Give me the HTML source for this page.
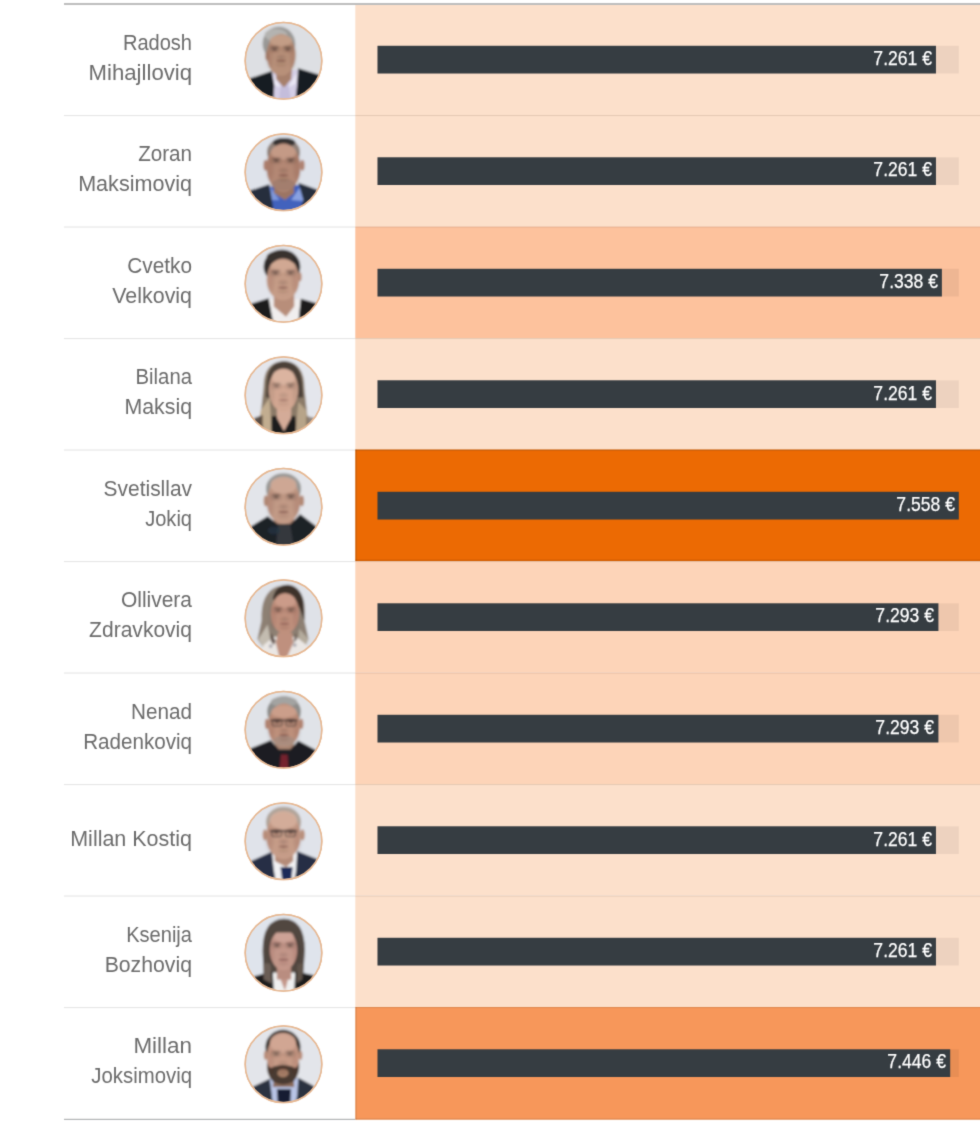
<!DOCTYPE html>
<html lang="sq">
<head>
<meta charset="utf-8">
<title>Paga</title>
<style>
html,body{margin:0;padding:0;background:#fff;}
body{width:980px;height:1127px;position:relative;overflow:hidden;font-family:"Liberation Sans",sans-serif;}
#page{position:absolute;left:0;top:0;width:980px;height:1127px;overflow:hidden;filter:url(#soft);background:#fff;}
#bg{position:absolute;left:0;top:0;width:980px;height:1127px;display:block;}
.name{position:absolute;left:0;width:192px;text-align:right;font-size:21.5px;line-height:30px;color:#6c6c6c;white-space:nowrap;}
.name span{display:block;transform-origin:100% 50%;}
.val{position:absolute;font-size:20.8px;line-height:28px;color:#fff;-webkit-text-stroke:0.25px #fff;white-space:nowrap;text-align:right;transform-origin:100% 50%;transform:scaleX(0.845);}
</style>
</head>
<body>
<div id="page">
<svg id="bg" width="980" height="1127" viewBox="0 0 980 1127">
<defs><filter id="bl" x="-5%" y="-5%" width="110%" height="110%"><feGaussianBlur stdDeviation="9"/></filter><filter id="bs" x="-30%" y="-30%" width="160%" height="160%"><feGaussianBlur stdDeviation="16"/></filter><clipPath id="cc"><circle cx="495" cy="498" r="372"/></clipPath><filter id="soft" x="0" y="0" width="100%" height="100%" color-interpolation-filters="sRGB"><feConvolveMatrix order="3" kernelMatrix="0.0169 0.0962 0.0169 0.0962 0.5476 0.0962 0.0169 0.0962 0.0169" edgeMode="duplicate" preserveAlpha="true"/></filter></defs>
<rect x="0" y="0" width="980" height="1127" fill="#ffffff"/>
<rect x="355.3" y="5.00" width="625" height="110.00" fill="#fce0cb"/>
<rect x="355.3" y="115.00" width="625" height="111.50" fill="#fce0cb"/>
<rect x="355.3" y="226.50" width="625" height="111.50" fill="#fdc29d"/>
<rect x="355.3" y="338.00" width="625" height="111.50" fill="#fce0cb"/>
<rect x="355.3" y="449.50" width="625" height="111.50" fill="#ec6a03"/>
<rect x="355.3" y="449.50" width="1.6" height="111.50" fill="#5a2a00" fill-opacity="0.17"/>
<rect x="355.3" y="559.60" width="625" height="1.4" fill="#5a2a00" fill-opacity="0.17"/>
<rect x="355.3" y="561.00" width="625" height="111.50" fill="#fdd4b8"/>
<rect x="355.3" y="672.50" width="625" height="111.50" fill="#fdd4b8"/>
<rect x="355.3" y="784.00" width="625" height="111.50" fill="#fce0cb"/>
<rect x="355.3" y="895.50" width="625" height="111.50" fill="#fce0cb"/>
<rect x="355.3" y="1007.00" width="625" height="112.70" fill="#f7975a"/>
<rect x="355.3" y="1007.00" width="1.6" height="112.70" fill="#5a2a00" fill-opacity="0.12"/>
<rect x="355.3" y="1118.30" width="625" height="1.4" fill="#5a2a00" fill-opacity="0.12"/>
<rect x="64" y="115.00" width="291.3" height="1.1" fill="#000" fill-opacity="0.10"/>
<rect x="355.3" y="115.00" width="625" height="1.1" fill="#3a1800" fill-opacity="0.11"/>
<rect x="377.5" y="45.80" width="581.3" height="27.7" fill="#000" fill-opacity="0.06"/>
<rect x="377.5" y="45.80" width="558.46" height="27.7" fill="#363d42"/>
<g transform="translate(232.99 9.98) scale(0.10204)"><circle cx="495" cy="498" r="375" fill="#fff" stroke="#e6b893" stroke-width="15"/><g clip-path="url(#cc)"><g filter="url(#bl)"><rect x="100" y="100" width="800" height="800" fill="#dddfe3"/><ellipse cx="450" cy="330" rx="160" ry="165" fill="#9a9997"/><ellipse cx="420" cy="245" rx="110" ry="62" fill="#b4b3b0"/><path d="M385 610 L640 585 L660 900 L380 900Z" fill="#d4cee6"/><path d="M395 620 L470 760 L405 740Z" fill="#ebe8f5"/><path d="M640 595 L540 760 L615 720Z" fill="#ebe8f5"/><path d="M470 720 L540 720 L570 900 L450 900Z" fill="#bdb6d6" fill-opacity="0.7"/><path d="M420 560 L580 560 L570 680 L500 760 L425 680Z" fill="#a7806c"/><path d="M140 680 L380 598 L405 740 L395 900 L100 900Z" fill="#181a20"/><path d="M638 572 L860 640 L900 900 L610 900 L628 740Z" fill="#181a20"/><ellipse cx="472" cy="440" rx="142" ry="205" fill="#b89079"/><ellipse cx="470" cy="300" rx="110" ry="55" fill="#c6a08a" fill-opacity="0.8"/><ellipse cx="335" cy="450" rx="18" ry="45" fill="#a8806c"/><g filter="url(#bs)"><ellipse cx="358.4" cy="448" rx="28.400000000000002" ry="130" fill="#2e201c" fill-opacity="0.096"/><ellipse cx="585.6" cy="448" rx="28.400000000000002" ry="130" fill="#2e201c" fill-opacity="0.096"/><ellipse cx="408" cy="382" rx="50" ry="26" fill="#2e201c" fill-opacity="0.27"/><ellipse cx="536" cy="382" rx="50" ry="26" fill="#2e201c" fill-opacity="0.27"/><ellipse cx="472" cy="466.0" rx="40" ry="14" fill="#2e201c" fill-opacity="0.27"/><ellipse cx="472" cy="532" rx="50" ry="14" fill="#2e201c" fill-opacity="0.15"/></g><ellipse cx="408" cy="366" rx="42" ry="8" fill="#2e201c" fill-opacity="0.44999999999999996"/><ellipse cx="536" cy="366" rx="42" ry="8" fill="#2e201c" fill-opacity="0.44999999999999996"/><ellipse cx="408" cy="390" rx="24" ry="8" fill="#2e201c" fill-opacity="0.6"/><ellipse cx="536" cy="390" rx="24" ry="8" fill="#2e201c" fill-opacity="0.6"/><ellipse cx="472" cy="498" rx="50" ry="8" fill="#5e2e2c" fill-opacity="0.6"/></g></g><circle cx="495" cy="498" r="375" fill="none" stroke="#e6b893" stroke-width="15"/></g>
<rect x="64" y="226.50" width="291.3" height="1.1" fill="#000" fill-opacity="0.10"/>
<rect x="355.3" y="226.50" width="625" height="1.1" fill="#3a1800" fill-opacity="0.11"/>
<rect x="377.5" y="157.30" width="581.3" height="27.7" fill="#000" fill-opacity="0.06"/>
<rect x="377.5" y="157.30" width="558.46" height="27.7" fill="#363d42"/>
<g transform="translate(232.99 121.48) scale(0.10204)"><circle cx="495" cy="498" r="375" fill="#fff" stroke="#e6b893" stroke-width="15"/><g clip-path="url(#cc)"><g filter="url(#bl)"><rect x="100" y="100" width="800" height="800" fill="#dee2ea"/><ellipse cx="495" cy="300" rx="162" ry="135" fill="#8f8078"/><ellipse cx="500" cy="205" rx="112" ry="42" fill="#353331"/><path d="M350 640 L680 620 L700 900 L340 900Z" fill="#4362bd"/><path d="M365 640 L455 770 L370 770Z" fill="#7f98dc"/><path d="M670 625 L570 770 L690 780Z" fill="#8aa2e2"/><path d="M410 600 L590 600 L600 700 L510 770 L400 700Z" fill="#9c7563"/><path d="M160 680 L355 615 L380 760 L400 900 L100 900Z" fill="#272d3d"/><path d="M640 600 L830 670 L900 900 L640 900 L690 770Z" fill="#272d3d"/><ellipse cx="495" cy="452" rx="166" ry="238" fill="#b48874"/><ellipse cx="495" cy="300" rx="122" ry="75" fill="#c79e89" fill-opacity="0.85"/><ellipse cx="495" cy="620" rx="120" ry="60" fill="#8f7468" fill-opacity="0.45"/><ellipse cx="320" cy="430" rx="22" ry="52" fill="#b08270"/><ellipse cx="680" cy="430" rx="22" ry="52" fill="#b08270"/><g filter="url(#bs)"><ellipse cx="362.2" cy="448" rx="33.2" ry="130" fill="#2e201c" fill-opacity="0.096"/><ellipse cx="627.8" cy="448" rx="33.2" ry="130" fill="#2e201c" fill-opacity="0.096"/><ellipse cx="425" cy="382" rx="50" ry="26" fill="#2e201c" fill-opacity="0.27"/><ellipse cx="565" cy="382" rx="50" ry="26" fill="#2e201c" fill-opacity="0.27"/><ellipse cx="495" cy="481.0" rx="40" ry="14" fill="#2e201c" fill-opacity="0.27"/><ellipse cx="495" cy="562" rx="50" ry="14" fill="#2e201c" fill-opacity="0.15"/></g><ellipse cx="425" cy="366" rx="42" ry="8" fill="#2e201c" fill-opacity="0.44999999999999996"/><ellipse cx="565" cy="366" rx="42" ry="8" fill="#2e201c" fill-opacity="0.44999999999999996"/><ellipse cx="425" cy="390" rx="24" ry="8" fill="#2e201c" fill-opacity="0.6"/><ellipse cx="565" cy="390" rx="24" ry="8" fill="#2e201c" fill-opacity="0.6"/><ellipse cx="495" cy="528" rx="50" ry="8" fill="#5e2e2c" fill-opacity="0.6"/></g></g><circle cx="495" cy="498" r="375" fill="none" stroke="#e6b893" stroke-width="15"/></g>
<rect x="64" y="338.00" width="291.3" height="1.1" fill="#000" fill-opacity="0.10"/>
<rect x="355.3" y="338.00" width="625" height="1.1" fill="#3a1800" fill-opacity="0.11"/>
<rect x="377.5" y="268.80" width="581.3" height="27.7" fill="#000" fill-opacity="0.06"/>
<rect x="377.5" y="268.80" width="564.38" height="27.7" fill="#363d42"/>
<g transform="translate(232.99 232.98) scale(0.10204)"><circle cx="495" cy="498" r="375" fill="#fff" stroke="#e6b893" stroke-width="15"/><g clip-path="url(#cc)"><g filter="url(#bl)"><rect x="100" y="100" width="800" height="800" fill="#e2e4ea"/><ellipse cx="480" cy="330" rx="180" ry="165" fill="#2f2b29"/><ellipse cx="460" cy="235" rx="130" ry="60" fill="#38332f"/><path d="M345 650 L665 650 L670 900 L350 900Z" fill="#f0eeee"/><path d="M400 600 L600 600 L600 720 L520 820 L400 720Z" fill="#b88e7a"/><path d="M170 695 L350 640 L375 780 L400 900 L100 900Z" fill="#1a1c1f"/><path d="M665 645 L825 690 L900 900 L640 900 L650 780Z" fill="#1a1c1f"/><ellipse cx="490" cy="455" rx="160" ry="205" fill="#c69c87"/><ellipse cx="490" cy="330" rx="125" ry="65" fill="#d2aa95" fill-opacity="0.85"/><ellipse cx="655" cy="430" rx="18" ry="45" fill="#b98d79"/><g filter="url(#bs)"><ellipse cx="370.0" cy="455" rx="30.0" ry="130" fill="#2e201c" fill-opacity="0.096"/><ellipse cx="610.0" cy="455" rx="30.0" ry="130" fill="#2e201c" fill-opacity="0.096"/><ellipse cx="418" cy="389" rx="50" ry="26" fill="#2e201c" fill-opacity="0.27"/><ellipse cx="562" cy="389" rx="50" ry="26" fill="#2e201c" fill-opacity="0.27"/><ellipse cx="490" cy="488.0" rx="40" ry="14" fill="#2e201c" fill-opacity="0.27"/><ellipse cx="490" cy="569" rx="50" ry="14" fill="#2e201c" fill-opacity="0.15"/></g><ellipse cx="418" cy="373" rx="42" ry="8" fill="#2e201c" fill-opacity="0.44999999999999996"/><ellipse cx="562" cy="373" rx="42" ry="8" fill="#2e201c" fill-opacity="0.44999999999999996"/><ellipse cx="418" cy="397" rx="24" ry="8" fill="#2e201c" fill-opacity="0.6"/><ellipse cx="562" cy="397" rx="24" ry="8" fill="#2e201c" fill-opacity="0.6"/><ellipse cx="490" cy="535" rx="50" ry="8" fill="#5e2e2c" fill-opacity="0.6"/></g></g><circle cx="495" cy="498" r="375" fill="none" stroke="#e6b893" stroke-width="15"/></g>
<rect x="64" y="449.50" width="291.3" height="1.1" fill="#000" fill-opacity="0.10"/>
<rect x="355.3" y="449.50" width="625" height="1.1" fill="#3a1800" fill-opacity="0.24"/>
<rect x="377.5" y="380.30" width="581.3" height="27.7" fill="#000" fill-opacity="0.06"/>
<rect x="377.5" y="380.30" width="558.46" height="27.7" fill="#363d42"/>
<g transform="translate(232.99 344.48) scale(0.10204)"><circle cx="495" cy="498" r="375" fill="#fff" stroke="#e6b893" stroke-width="15"/><g clip-path="url(#cc)"><g filter="url(#bl)"><rect x="100" y="100" width="800" height="800" fill="#e4e6ec"/><path d="M300 420 Q300 170 500 165 Q700 170 700 430 L735 760 L720 900 L250 900 L270 700Z" fill="#8b7a68"/><path d="M330 360 Q350 170 500 165 Q660 170 680 380 L690 520 L320 520Z" fill="#4b4138"/><path d="M380 700 L610 700 L630 900 L370 900Z" fill="#1b1a1b"/><path d="M430 620 L570 620 L570 720 L500 850 L430 720Z" fill="#d4ab98"/><path d="M270 650 L360 520 L380 900 L250 900Z" fill="#c2ad90"/><path d="M640 560 L720 650 L740 900 L610 900Z" fill="#b7a489"/><path d="M210 720 L290 690 L290 900 L150 900Z" fill="#3a2c24" fill-opacity="0.8"/><path d="M720 700 L800 720 L850 900 L720 900Z" fill="#5a4636" fill-opacity="0.6"/><ellipse cx="495" cy="445" rx="145" ry="210" fill="#d2a792"/><ellipse cx="495" cy="320" rx="110" ry="80" fill="#ddb6a2" fill-opacity="0.85"/><g filter="url(#bs)"><ellipse cx="375.0" cy="470" rx="30.0" ry="130" fill="#2e201c" fill-opacity="0.07200000000000001"/><ellipse cx="615.0" cy="470" rx="30.0" ry="130" fill="#2e201c" fill-opacity="0.07200000000000001"/><ellipse cx="427" cy="404" rx="50" ry="26" fill="#2e201c" fill-opacity="0.2025"/><ellipse cx="563" cy="404" rx="50" ry="26" fill="#2e201c" fill-opacity="0.2025"/><ellipse cx="495" cy="500.5" rx="40" ry="14" fill="#2e201c" fill-opacity="0.2025"/><ellipse cx="495" cy="579" rx="50" ry="14" fill="#2e201c" fill-opacity="0.1125"/></g><ellipse cx="427" cy="388" rx="42" ry="8" fill="#2e201c" fill-opacity="0.3375"/><ellipse cx="563" cy="388" rx="42" ry="8" fill="#2e201c" fill-opacity="0.3375"/><ellipse cx="427" cy="412" rx="24" ry="8" fill="#2e201c" fill-opacity="0.45"/><ellipse cx="563" cy="412" rx="24" ry="8" fill="#2e201c" fill-opacity="0.45"/><ellipse cx="495" cy="545" rx="50" ry="8" fill="#5e2e2c" fill-opacity="0.45"/></g></g><circle cx="495" cy="498" r="375" fill="none" stroke="#e6b893" stroke-width="15"/></g>
<rect x="64" y="561.00" width="291.3" height="1.1" fill="#000" fill-opacity="0.10"/>
<rect x="355.3" y="561.00" width="625" height="1.1" fill="#3a1800" fill-opacity="0.11"/>
<rect x="377.5" y="491.80" width="581.3" height="27.7" fill="#000" fill-opacity="0.06"/>
<rect x="377.5" y="491.80" width="581.30" height="27.7" fill="#363d42"/>
<g transform="translate(232.99 455.98) scale(0.10204)"><circle cx="495" cy="498" r="375" fill="#fff" stroke="#e6b893" stroke-width="15"/><g clip-path="url(#cc)"><g filter="url(#bl)"><rect x="100" y="100" width="800" height="800" fill="#e3e5ea"/><ellipse cx="495" cy="320" rx="172" ry="150" fill="#9a9997"/><path d="M410 590 L590 590 L620 720 L380 720Z" fill="#a8826f"/><path d="M160 700 L340 590 L440 670 L560 670 L660 570 L830 700 L900 900 L100 900Z" fill="#1d2127"/><path d="M440 670 L560 670 L600 900 L420 900Z" fill="#34373c"/><ellipse cx="400" cy="730" rx="60" ry="40" fill="#27384a" fill-opacity="0.6"/><ellipse cx="495" cy="445" rx="164" ry="222" fill="#c29a86"/><ellipse cx="495" cy="285" rx="128" ry="85" fill="#cfa996" fill-opacity="0.9"/><ellipse cx="322" cy="440" rx="22" ry="52" fill="#b58b77"/><ellipse cx="675" cy="440" rx="22" ry="52" fill="#b58b77"/><g filter="url(#bs)"><ellipse cx="363.79999999999995" cy="465" rx="32.800000000000004" ry="130" fill="#2e201c" fill-opacity="0.096"/><ellipse cx="626.2" cy="465" rx="32.800000000000004" ry="130" fill="#2e201c" fill-opacity="0.096"/><ellipse cx="423" cy="399" rx="50" ry="26" fill="#2e201c" fill-opacity="0.27"/><ellipse cx="567" cy="399" rx="50" ry="26" fill="#2e201c" fill-opacity="0.27"/><ellipse cx="495" cy="499.5" rx="40" ry="14" fill="#2e201c" fill-opacity="0.27"/><ellipse cx="495" cy="582" rx="50" ry="14" fill="#2e201c" fill-opacity="0.15"/></g><ellipse cx="423" cy="383" rx="42" ry="8" fill="#2e201c" fill-opacity="0.44999999999999996"/><ellipse cx="567" cy="383" rx="42" ry="8" fill="#2e201c" fill-opacity="0.44999999999999996"/><ellipse cx="423" cy="407" rx="24" ry="8" fill="#2e201c" fill-opacity="0.6"/><ellipse cx="567" cy="407" rx="24" ry="8" fill="#2e201c" fill-opacity="0.6"/><ellipse cx="495" cy="548" rx="50" ry="8" fill="#5e2e2c" fill-opacity="0.6"/></g></g><circle cx="495" cy="498" r="375" fill="none" stroke="#e6b893" stroke-width="15"/></g>
<rect x="64" y="672.50" width="291.3" height="1.1" fill="#000" fill-opacity="0.10"/>
<rect x="355.3" y="672.50" width="625" height="1.1" fill="#3a1800" fill-opacity="0.11"/>
<rect x="377.5" y="603.30" width="581.3" height="27.7" fill="#000" fill-opacity="0.06"/>
<rect x="377.5" y="603.30" width="560.92" height="27.7" fill="#363d42"/>
<g transform="translate(232.99 567.48) scale(0.10204)"><circle cx="495" cy="498" r="375" fill="#fff" stroke="#e6b893" stroke-width="15"/><g clip-path="url(#cc)"><g filter="url(#bl)"><rect x="100" y="100" width="800" height="800" fill="#dfe2e8"/><path d="M280 520 Q270 250 430 190 Q560 140 660 250 Q720 330 700 520 L740 700 L700 760 L600 700 L380 700 L280 760 L240 700Z" fill="#8d8073"/><path d="M390 310 Q410 175 540 170 Q660 185 690 330 L700 520 L650 390 L420 330Z" fill="#3c312a"/><path d="M250 700 L340 560 L370 720 L300 800Z" fill="#c3bcb0"/><path d="M650 600 L740 700 L700 800 L640 720Z" fill="#b4ab9c"/><path d="M300 760 L400 680 L620 680 L720 760 L760 900 L260 900Z" fill="#ebe7e4"/><path d="M440 640 L580 640 L590 740 L520 900 L460 900 L420 740Z" fill="#bf907e"/><path d="M370 640 L420 720 L400 760 L370 720Z" fill="#4a3a32" fill-opacity="0.8"/><path d="M610 640 L590 740 L630 700Z" fill="#4a3a32" fill-opacity="0.7"/><ellipse cx="370" cy="770" rx="18" ry="18" fill="#7a7a88" fill-opacity="0.6"/><ellipse cx="605" cy="760" rx="18" ry="18" fill="#7a7a88" fill-opacity="0.6"/><ellipse cx="510" cy="450" rx="140" ry="200" fill="#c0907d"/><ellipse cx="515" cy="330" rx="100" ry="70" fill="#cc9e8b" fill-opacity="0.85"/><g filter="url(#bs)"><ellipse cx="393.0" cy="482" rx="28.0" ry="130" fill="#2e201c" fill-opacity="0.08800000000000001"/><ellipse cx="617.0" cy="482" rx="28.0" ry="130" fill="#2e201c" fill-opacity="0.08800000000000001"/><ellipse cx="443" cy="416" rx="50" ry="26" fill="#2e201c" fill-opacity="0.24750000000000003"/><ellipse cx="567" cy="416" rx="50" ry="26" fill="#2e201c" fill-opacity="0.24750000000000003"/><ellipse cx="505" cy="510.0" rx="40" ry="14" fill="#2e201c" fill-opacity="0.24750000000000003"/><ellipse cx="505" cy="586" rx="50" ry="14" fill="#2e201c" fill-opacity="0.1375"/></g><ellipse cx="443" cy="400" rx="42" ry="8" fill="#2e201c" fill-opacity="0.41250000000000003"/><ellipse cx="567" cy="400" rx="42" ry="8" fill="#2e201c" fill-opacity="0.41250000000000003"/><ellipse cx="443" cy="424" rx="24" ry="8" fill="#2e201c" fill-opacity="0.55"/><ellipse cx="567" cy="424" rx="24" ry="8" fill="#2e201c" fill-opacity="0.55"/><ellipse cx="505" cy="552" rx="50" ry="8" fill="#5e2e2c" fill-opacity="0.55"/></g></g><circle cx="495" cy="498" r="375" fill="none" stroke="#e6b893" stroke-width="15"/></g>
<rect x="64" y="784.00" width="291.3" height="1.1" fill="#000" fill-opacity="0.10"/>
<rect x="355.3" y="784.00" width="625" height="1.1" fill="#3a1800" fill-opacity="0.11"/>
<rect x="377.5" y="714.80" width="581.3" height="27.7" fill="#000" fill-opacity="0.06"/>
<rect x="377.5" y="714.80" width="560.92" height="27.7" fill="#363d42"/>
<g transform="translate(232.99 678.98) scale(0.10204)"><circle cx="495" cy="498" r="375" fill="#fff" stroke="#e6b893" stroke-width="15"/><g clip-path="url(#cc)"><g filter="url(#bl)"><rect x="100" y="100" width="800" height="800" fill="#e0e3e8"/><ellipse cx="500" cy="320" rx="165" ry="150" fill="#8c8c8a"/><ellipse cx="500" cy="225" rx="130" ry="50" fill="#a3a3a1"/><path d="M420 600 L590 600 L600 700 L400 700Z" fill="#a98370"/><path d="M150 690 L370 600 L450 690 L560 690 L640 605 L820 700 L900 900 L100 900Z" fill="#1b1d20"/><path d="M470 740 L535 740 L545 900 L455 900Z" fill="#74202f"/><ellipse cx="500" cy="455" rx="158" ry="215" fill="#bf917c"/><ellipse cx="500" cy="320" rx="122" ry="60" fill="#cca08d" fill-opacity="0.85"/><ellipse cx="332" cy="440" rx="20" ry="50" fill="#b48672"/><ellipse cx="670" cy="440" rx="20" ry="50" fill="#b48672"/><ellipse cx="500" cy="610" rx="110" ry="55" fill="#988a80" fill-opacity="0.5"/><g filter="url(#bs)"><ellipse cx="373.6" cy="482" rx="31.6" ry="130" fill="#2e201c" fill-opacity="0.096"/><ellipse cx="626.4" cy="482" rx="31.6" ry="130" fill="#2e201c" fill-opacity="0.096"/><ellipse cx="434" cy="416" rx="50" ry="26" fill="#2e201c" fill-opacity="0.27"/><ellipse cx="566" cy="416" rx="50" ry="26" fill="#2e201c" fill-opacity="0.27"/><ellipse cx="500" cy="509.0" rx="40" ry="14" fill="#2e201c" fill-opacity="0.27"/><ellipse cx="500" cy="584" rx="50" ry="14" fill="#2e201c" fill-opacity="0.15"/></g><ellipse cx="434" cy="400" rx="42" ry="8" fill="#2e201c" fill-opacity="0.44999999999999996"/><ellipse cx="566" cy="400" rx="42" ry="8" fill="#2e201c" fill-opacity="0.44999999999999996"/><ellipse cx="434" cy="424" rx="24" ry="8" fill="#2e201c" fill-opacity="0.6"/><ellipse cx="566" cy="424" rx="24" ry="8" fill="#2e201c" fill-opacity="0.6"/><ellipse cx="500" cy="550" rx="50" ry="8" fill="#5e2e2c" fill-opacity="0.6"/><path d="M372 406 L628 406" fill="none" stroke="#222226" stroke-width="13" stroke-linecap="round" stroke-opacity="0.85"/><rect x="384" y="402" width="98" height="60" rx="14" fill="none" stroke="#222226" stroke-width="9" stroke-opacity="0.7"/><rect x="518" y="402" width="98" height="60" rx="14" fill="none" stroke="#222226" stroke-width="9" stroke-opacity="0.7"/></g></g><circle cx="495" cy="498" r="375" fill="none" stroke="#e6b893" stroke-width="15"/></g>
<rect x="64" y="895.50" width="291.3" height="1.1" fill="#000" fill-opacity="0.10"/>
<rect x="355.3" y="895.50" width="625" height="1.1" fill="#3a1800" fill-opacity="0.11"/>
<rect x="377.5" y="826.30" width="581.3" height="27.7" fill="#000" fill-opacity="0.06"/>
<rect x="377.5" y="826.30" width="558.46" height="27.7" fill="#363d42"/>
<g transform="translate(232.99 790.48) scale(0.10204)"><circle cx="495" cy="498" r="375" fill="#fff" stroke="#e6b893" stroke-width="15"/><g clip-path="url(#cc)"><g filter="url(#bl)"><rect x="100" y="100" width="800" height="800" fill="#e0e3ea"/><ellipse cx="495" cy="310" rx="172" ry="150" fill="#b0a49a"/><path d="M390 620 L620 615 L600 900 L410 900Z" fill="#f2f2f4"/><path d="M410 600 L590 600 L590 690 L520 750 L410 690Z" fill="#b58c79"/><path d="M465 750 L585 750 L570 900 L485 900Z" fill="#1c2c58"/><path d="M170 695 L380 600 L400 780 L420 900 L100 900Z" fill="#252f45"/><path d="M630 595 L830 675 L900 900 L600 900 L620 780Z" fill="#252f45"/><ellipse cx="495" cy="445" rx="170" ry="228" fill="#c69c88"/><ellipse cx="495" cy="290" rx="132" ry="92" fill="#d4ae9b" fill-opacity="0.9"/><ellipse cx="312" cy="435" rx="22" ry="54" fill="#bb907b"/><ellipse cx="682" cy="435" rx="22" ry="54" fill="#bb907b"/><g filter="url(#bs)"><ellipse cx="359.0" cy="472" rx="34.0" ry="130" fill="#2e201c" fill-opacity="0.096"/><ellipse cx="631.0" cy="472" rx="34.0" ry="130" fill="#2e201c" fill-opacity="0.096"/><ellipse cx="425" cy="406" rx="50" ry="26" fill="#2e201c" fill-opacity="0.27"/><ellipse cx="565" cy="406" rx="50" ry="26" fill="#2e201c" fill-opacity="0.27"/><ellipse cx="495" cy="504.0" rx="40" ry="14" fill="#2e201c" fill-opacity="0.27"/><ellipse cx="495" cy="584" rx="50" ry="14" fill="#2e201c" fill-opacity="0.15"/></g><ellipse cx="425" cy="390" rx="42" ry="8" fill="#2e201c" fill-opacity="0.44999999999999996"/><ellipse cx="565" cy="390" rx="42" ry="8" fill="#2e201c" fill-opacity="0.44999999999999996"/><ellipse cx="425" cy="414" rx="24" ry="8" fill="#2e201c" fill-opacity="0.6"/><ellipse cx="565" cy="414" rx="24" ry="8" fill="#2e201c" fill-opacity="0.6"/><ellipse cx="495" cy="550" rx="50" ry="8" fill="#5e2e2c" fill-opacity="0.6"/><path d="M367 396 L623 396" fill="none" stroke="#222226" stroke-width="13" stroke-linecap="round" stroke-opacity="0.85"/><rect x="379" y="392" width="98" height="60" rx="14" fill="none" stroke="#222226" stroke-width="9" stroke-opacity="0.7"/><rect x="513" y="392" width="98" height="60" rx="14" fill="none" stroke="#222226" stroke-width="9" stroke-opacity="0.7"/></g></g><circle cx="495" cy="498" r="375" fill="none" stroke="#e6b893" stroke-width="15"/></g>
<rect x="64" y="1007.00" width="291.3" height="1.1" fill="#000" fill-opacity="0.10"/>
<rect x="355.3" y="1007.00" width="625" height="1.1" fill="#3a1800" fill-opacity="0.11"/>
<rect x="377.5" y="937.80" width="581.3" height="27.7" fill="#000" fill-opacity="0.06"/>
<rect x="377.5" y="937.80" width="558.46" height="27.7" fill="#363d42"/>
<g transform="translate(232.99 901.98) scale(0.10204)"><circle cx="495" cy="498" r="375" fill="#fff" stroke="#e6b893" stroke-width="15"/><g clip-path="url(#cc)"><g filter="url(#bl)"><rect x="100" y="100" width="800" height="800" fill="#dfe4ec"/><path d="M290 480 Q290 170 500 165 Q700 170 705 470 L690 700 L640 760 L360 760 L300 700Z" fill="#51463f"/><path d="M390 690 L610 690 L620 900 L380 900Z" fill="#f0f0f0"/><path d="M450 720 L550 720 L510 870Z" fill="#c4978a"/><path d="M430 640 L570 640 L570 760 L430 760Z" fill="#b98d80"/><path d="M200 730 L390 680 L400 900 L100 900Z" fill="#1b1b1d"/><path d="M610 680 L800 720 L900 900 L600 900Z" fill="#1b1b1d"/><path d="M300 600 L370 600 L380 800 L300 760Z" fill="#6a5d54"/><path d="M630 600 L690 600 L680 760 L620 800Z" fill="#5e524a"/><ellipse cx="495" cy="470" rx="135" ry="200" fill="#c4978a"/><ellipse cx="500" cy="340" rx="95" ry="60" fill="#d0a598" fill-opacity="0.8"/><path d="M370 360 Q380 250 500 250 Q600 250 640 360 L600 300 L420 300Z" fill="#51463f"/><g filter="url(#bs)"><ellipse cx="375.0" cy="490" rx="30.0" ry="130" fill="#2e201c" fill-opacity="0.08800000000000001"/><ellipse cx="615.0" cy="490" rx="30.0" ry="130" fill="#2e201c" fill-opacity="0.08800000000000001"/><ellipse cx="431" cy="424" rx="50" ry="26" fill="#2e201c" fill-opacity="0.24750000000000003"/><ellipse cx="559" cy="424" rx="50" ry="26" fill="#2e201c" fill-opacity="0.24750000000000003"/><ellipse cx="495" cy="520.5" rx="40" ry="14" fill="#2e201c" fill-opacity="0.24750000000000003"/><ellipse cx="495" cy="599" rx="50" ry="14" fill="#2e201c" fill-opacity="0.1375"/></g><ellipse cx="431" cy="408" rx="42" ry="8" fill="#2e201c" fill-opacity="0.41250000000000003"/><ellipse cx="559" cy="408" rx="42" ry="8" fill="#2e201c" fill-opacity="0.41250000000000003"/><ellipse cx="431" cy="432" rx="24" ry="8" fill="#2e201c" fill-opacity="0.55"/><ellipse cx="559" cy="432" rx="24" ry="8" fill="#2e201c" fill-opacity="0.55"/><ellipse cx="495" cy="565" rx="50" ry="8" fill="#5e2e2c" fill-opacity="0.55"/></g></g><circle cx="495" cy="498" r="375" fill="none" stroke="#e6b893" stroke-width="15"/></g>
<rect x="64" y="1118.80" width="291.3" height="1.2" fill="#b2b4b6"/>
<rect x="377.5" y="1049.30" width="581.3" height="27.7" fill="#000" fill-opacity="0.06"/>
<rect x="377.5" y="1049.30" width="572.69" height="27.7" fill="#363d42"/>
<g transform="translate(232.99 1013.48) scale(0.10204)"><circle cx="495" cy="498" r="375" fill="#fff" stroke="#e6b893" stroke-width="15"/><g clip-path="url(#cc)"><g filter="url(#bl)"><rect x="100" y="100" width="800" height="800" fill="#e3e5ea"/><ellipse cx="490" cy="330" rx="172" ry="170" fill="#3b3430"/><path d="M360 640 L640 635 L650 900 L365 900Z" fill="#b9c5e6"/><path d="M430 740 L570 740 L560 900 L440 900Z" fill="#171b32"/><path d="M410 600 L590 600 L600 720 L390 720Z" fill="#8a6a5a"/><path d="M190 720 L360 640 L380 800 L390 900 L100 900Z" fill="#2b323f"/><path d="M640 630 L790 710 L900 900 L610 900 L630 800Z" fill="#2b323f"/><ellipse cx="490" cy="430" rx="158" ry="225" fill="#c89b87"/><ellipse cx="490" cy="290" rx="128" ry="100" fill="#d2a793" fill-opacity="0.95"/><ellipse cx="320" cy="410" rx="18" ry="45" fill="#b98d79"/><ellipse cx="662" cy="410" rx="18" ry="45" fill="#b98d79"/><path d="M335 470 Q350 560 400 520 Q490 490 580 520 Q630 560 648 470 Q660 600 590 670 Q490 720 395 670 Q320 600 335 470Z" fill="#4a3a30"/><ellipse cx="490" cy="585" rx="55" ry="40" fill="#a88068"/><g filter="url(#bs)"><ellipse cx="370.0" cy="460" rx="30.0" ry="130" fill="#2e201c" fill-opacity="0.08"/><ellipse cx="610.0" cy="460" rx="30.0" ry="130" fill="#2e201c" fill-opacity="0.08"/><ellipse cx="424" cy="394" rx="50" ry="26" fill="#2e201c" fill-opacity="0.225"/><ellipse cx="556" cy="394" rx="50" ry="26" fill="#2e201c" fill-opacity="0.225"/><ellipse cx="490" cy="493.0" rx="40" ry="14" fill="#2e201c" fill-opacity="0.225"/><ellipse cx="490" cy="574" rx="50" ry="14" fill="#2e201c" fill-opacity="0.125"/></g><ellipse cx="424" cy="378" rx="42" ry="8" fill="#2e201c" fill-opacity="0.375"/><ellipse cx="556" cy="378" rx="42" ry="8" fill="#2e201c" fill-opacity="0.375"/><ellipse cx="424" cy="402" rx="24" ry="8" fill="#2e201c" fill-opacity="0.5"/><ellipse cx="556" cy="402" rx="24" ry="8" fill="#2e201c" fill-opacity="0.5"/><ellipse cx="490" cy="540" rx="50" ry="8" fill="#5e2e2c" fill-opacity="0.5"/></g></g><circle cx="495" cy="498" r="375" fill="none" stroke="#e6b893" stroke-width="15"/></g>
<rect x="64" y="3" width="916" height="2" fill="#bdbdbd"/>
</svg>
<div class="val" style="left:812.0px;width:120px;top:44px">7.261 €</div>
<div class="name" style="top:28px"><span style="transform:scaleX(0.9324)">Radosh</span><span style="transform:scaleX(1.0299)">Mihajlloviq</span></div>
<div class="val" style="left:812.0px;width:120px;top:155px">7.261 €</div>
<div class="name" style="top:139px"><span style="transform:scaleX(0.9585)">Zoran</span><span style="transform:scaleX(1.0032)">Maksimoviq</span></div>
<div class="val" style="left:817.9px;width:120px;top:267px">7.338 €</div>
<div class="name" style="top:251px"><span style="transform:scaleX(0.9668)">Cvetko</span><span style="transform:scaleX(0.9955)">Velkoviq</span></div>
<div class="val" style="left:812.0px;width:120px;top:379px">7.261 €</div>
<div class="name" style="top:362px"><span style="transform:scaleX(0.9448)">Bilana</span><span style="transform:scaleX(0.9915)">Maksiq</span></div>
<div class="val" style="left:834.8px;width:120px;top:490px">7.558 €</div>
<div class="name" style="top:474px"><span style="transform:scaleX(0.9732)">Svetisllav</span><span style="transform:scaleX(0.9326)">Jokiq</span></div>
<div class="val" style="left:814.4px;width:120px;top:601px">7.293 €</div>
<div class="name" style="top:585px"><span style="transform:scaleX(0.9742)">Ollivera</span><span style="transform:scaleX(0.9786)">Zdravkoviq</span></div>
<div class="val" style="left:814.4px;width:120px;top:713px">7.293 €</div>
<div class="name" style="top:697px"><span style="transform:scaleX(0.9617)">Nenad</span><span style="transform:scaleX(0.9587)">Radenkoviq</span></div>
<div class="val" style="left:812.0px;width:120px;top:825px">7.261 €</div>
<div class="name" style="top:824px"><span style="transform:scaleX(0.9992)">Millan Kostiq</span></div>
<div class="val" style="left:812.0px;width:120px;top:936px">7.261 €</div>
<div class="name" style="top:920px"><span style="transform:scaleX(0.9338)">Ksenija</span><span style="transform:scaleX(0.9877)">Bozhoviq</span></div>
<div class="val" style="left:826.2px;width:120px;top:1047px">7.446 €</div>
<div class="name" style="top:1031px"><span style="transform:scaleX(1.0434)">Millan</span><span style="transform:scaleX(0.9464)">Joksimoviq</span></div>
</div>
</body>
</html>
